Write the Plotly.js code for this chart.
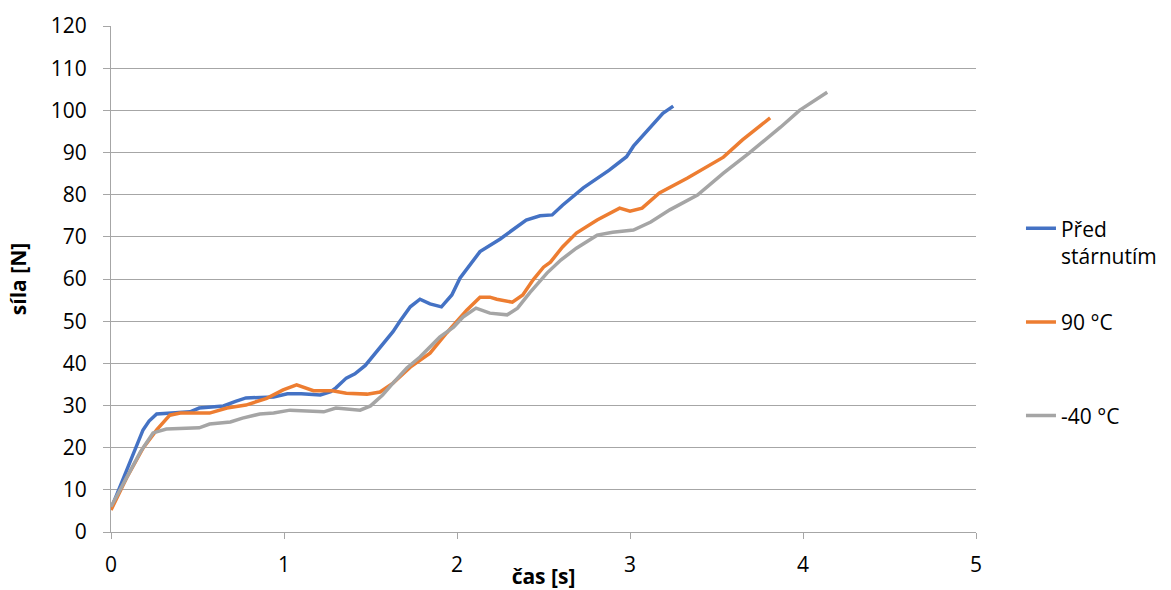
<!DOCTYPE html>
<html><head><meta charset="utf-8">
<script src="https://cdn.plot.ly/plotly-3.0.1.min.js"></script>
<style>html,body{margin:0;padding:0;background:#fff}#chart{width:1171px;height:590px}</style>
</head><body><div id="chart"></div>
<script>
var seriesNames = ["Před<br>stárnutím", "90 °C<br> ", "-40 °C<br> "];
var blueX = [0,0.04,0.08,0.12,0.15,0.185,0.22,0.264,0.35,0.457,0.51,0.58,0.65,0.72,0.78,0.94,1.02,1.1,1.21,1.27,1.30,1.36,1.41,1.47,1.555,1.6,1.63,1.67,1.73,1.786,1.844,1.91,1.97,2.017,2.07,2.133,2.25,2.32,2.4,2.48,2.55,2.61,2.73,2.88,2.98,3.02,3.12,3.19,3.25];
var blueY = [5.5,9.5,13.5,17.5,21,24.2,26.3,28.0,28.2,28.5,29.4,29.7,29.9,31,31.8,32,32.8,32.8,32.5,33.3,34.2,36.5,37.5,39.5,43.6,46,47.5,50,53.4,55.2,54.1,53.4,56.2,60.2,63,66.5,69.5,71.6,74,75,75.2,77.5,81.6,85.8,89,91.5,96,99.3,101];
var orangeX = [0,0.09,0.185,0.264,0.34,0.40,0.57,0.67,0.78,0.90,0.995,1.073,1.17,1.28,1.36,1.48,1.555,1.63,1.73,1.844,1.94,2.056,2.133,2.19,2.23,2.32,2.38,2.44,2.50,2.54,2.61,2.69,2.81,2.94,3.0,3.07,3.17,3.33,3.54,3.65,3.81];
var orangeY = [5.2,12.8,19.9,24.2,27.7,28.2,28.2,29.4,30.1,31.7,33.7,34.9,33.5,33.5,32.9,32.7,33.2,35.3,39.1,42.4,47.2,52.6,55.7,55.7,55.2,54.5,56.2,59.8,62.8,64,67.6,70.9,74,76.8,76.1,76.8,80.4,83.9,88.9,93,98.2];
var grayX = [0,0.09,0.17,0.243,0.32,0.51,0.57,0.69,0.76,0.86,0.94,1.035,1.13,1.23,1.30,1.44,1.50,1.57,1.63,1.71,1.786,1.90,1.98,2.035,2.11,2.19,2.29,2.35,2.42,2.52,2.60,2.69,2.81,2.90,3.02,3.12,3.23,3.39,3.54,3.69,3.87,3.98,4.14];
var grayY = [6,13,19,23.5,24.4,24.7,25.6,26.1,27,28,28.2,28.9,28.7,28.5,29.4,28.9,29.9,32.5,35.3,38.9,41.5,46.2,48.6,51,53.1,51.9,51.5,53.1,56.7,61.4,64.5,67.3,70.4,71.1,71.6,73.5,76.4,79.9,85.1,89.9,96,100,104.3];
var xTicks = [0,1,2,3,4,5];
var yTicks = [0,10,20,30,40,50,60,70,80,90,100,110,120];

var F = "Open Sans, Liberation Sans, sans-serif";
var traces = [
  {x: blueX, y: blueY, name: seriesNames[0], legendgroup: "a", mode: "lines", line: {color: "#4472C4", width: 3.5}},
  {x: orangeX, y: orangeY, name: seriesNames[1], legendgroup: "b", mode: "lines", line: {color: "#ED7D31", width: 3.5}},
  {x: grayX, y: grayY, name: seriesNames[2], legendgroup: "c", mode: "lines", line: {color: "#A5A5A5", width: 3.5}}
];
var layout = {
  width: 1171, height: 590,
  margin: {l: 111, r: 195, t: 26, b: 58, autoexpand: false},
  paper_bgcolor: "#fff", plot_bgcolor: "#fff",
  font: {family: F, size: 21, color: "#000"},
  showlegend: true,
  legend: {x: 1.052, xanchor: "left", y: 0.64, yanchor: "top", tracegroupgap: 36, valign: "top", font: {family: F, size: 21, color: "#000"}},
  xaxis: {range: [0, 5], tickvals: xTicks, ticktext: xTicks.map(String), showgrid: false, zeroline: false, automargin: false,
          showline: true, linecolor: "#a6a6a6", linewidth: 1, ticks: "outside", ticklen: 6, tickcolor: "#a6a6a6",
          ticklabelstandoff: 8, tickfont: {family: F, size: 21},
          title: {text: "<b>čas [s]</b>", font: {family: F, size: 21}, standoff: 0}},
  yaxis: {range: [0, 120], tickvals: yTicks, ticktext: yTicks.map(String), showgrid: true, gridcolor: "#a6a6a6", gridwidth: 1,
          zeroline: false, showline: true, linecolor: "#a6a6a6", linewidth: 1, ticks: "outside", ticklen: 7, tickcolor: "#a6a6a6",
          automargin: false, ticklabelstandoff: 12, tickfont: {family: F, size: 21},
          title: {text: "<b>síla [N]</b>", font: {family: F, size: 21}, standoff: 18}}
};
Plotly.newPlot("chart", traces, layout, {displayModeBar: false, staticPlot: true});
</script></body></html>
